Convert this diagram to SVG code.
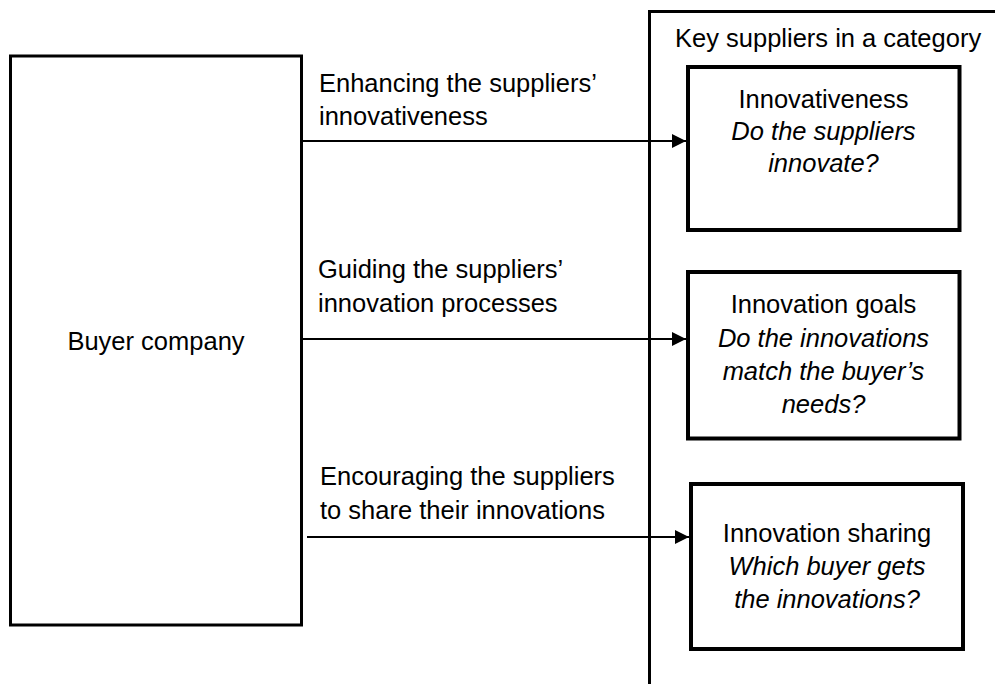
<svg xmlns="http://www.w3.org/2000/svg" width="995" height="684" viewBox="0 0 995 684">
  <style>
    text { font-family: "Liberation Sans", Arial, sans-serif; font-size: 25.5px; fill: #000; }
    .c { text-anchor: middle; }
    .i { font-style: italic; }
    .frame { fill: #fff; stroke: #000; stroke-width: 3; }
    .box { fill: #fff; stroke: #000; stroke-width: 4; }
    .link { fill: none; stroke: #000; stroke-width: 2; marker-end: url(#arrow); }
  </style>
  <defs>
    <marker id="arrow" viewBox="0 0 10 10" refX="10" refY="5" markerUnits="userSpaceOnUse" markerWidth="14" markerHeight="14" orient="auto">
      <path d="M0,0 L10,5 L0,10 Z" fill="#000"/>
    </marker>
  </defs>
  <rect width="995" height="684" fill="#fff"/>

  <!-- supplier category container (open to the right and bottom) -->
  <g id="supplier-category">
    <rect class="frame" x="649.5" y="11.5" width="400" height="720"/>
    <text x="675" y="47">Key suppliers in a category</text>
  </g>

  <g id="buyer">
    <rect class="frame" x="10.5" y="56" width="291" height="569"/>
    <text class="c" x="156" y="350">Buyer company</text>
  </g>

  <g id="innovativeness">
    <rect class="box" x="688" y="67" width="271.5" height="163"/>
    <text class="c" x="823.5" y="108">Innovativeness</text>
    <text class="c i" x="823.5" y="140">Do the suppliers</text>
    <text class="c i" x="823.5" y="172">innovate?</text>
  </g>

  <g id="innovation-goals">
    <rect class="box" x="688" y="272" width="271.5" height="166.5"/>
    <text class="c" x="823.5" y="313">Innovation goals</text>
    <text class="c i" x="823.5" y="347">Do the innovations</text>
    <text class="c i" x="823.5" y="380">match the buyer’s</text>
    <text class="c i" x="823.5" y="413">needs?</text>
  </g>

  <g id="innovation-sharing">
    <rect class="box" x="691" y="484" width="272" height="165"/>
    <text class="c" x="827" y="542">Innovation sharing</text>
    <text class="c i" x="827" y="575">Which buyer gets</text>
    <text class="c i" x="827" y="608">the innovations?</text>
  </g>

  <g id="connectors">
    <line class="link" x1="301.5" y1="141" x2="686" y2="141"/>
    <line class="link" x1="301.5" y1="339" x2="686" y2="339"/>
    <line class="link" x1="307" y1="537" x2="689" y2="537"/>
    <text x="319" y="92">Enhancing the suppliers’</text>
    <text x="319" y="125">innovativeness</text>
    <text x="318" y="278">Guiding the suppliers’</text>
    <text x="318" y="312">innovation processes</text>
    <text x="320" y="485">Encouraging the suppliers</text>
    <text x="320" y="519">to share their innovations</text>
  </g>
</svg>
